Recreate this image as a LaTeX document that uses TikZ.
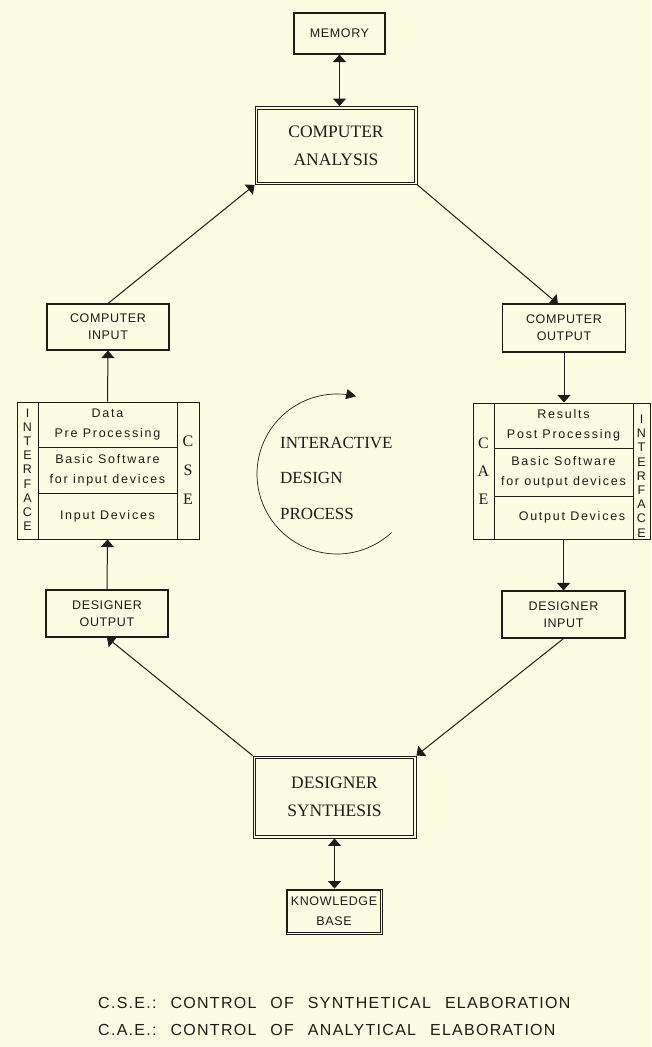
\documentclass[tikz,border=0pt]{standalone}
\usepackage{fontspec}
\newfontfamily\plotcaps[LetterSpace=5]{Liberation Sans}
\newfontfamily\plotlow[LetterSpace=14]{Liberation Sans}
\newfontfamily\plotlegend[LetterSpace=8]{Liberation Sans}
\newfontfamily\bookserif{Liberation Serif}
\usetikzlibrary{arrows.meta}
\definecolor{paper}{RGB}{252,252,226}
\definecolor{ink}{RGB}{28,28,24}
\newcommand\wgap{\hspace{14pt}}

\begin{document}
\begin{tikzpicture}[x=1pt,y=-1pt,
  box/.style={draw=ink, line width=1.1pt, inner sep=0pt, align=center, text=ink},
  frame/.style={draw=ink, line width=0.9pt},
  cell/.style={draw=ink, line width=1pt, inner sep=0pt, align=center, text=ink},
  capsl/.style={font=\plotcaps\fontsize{12.5}{17}\selectfont},
  lowl/.style={font=\plotlow\fontsize{12.5}{20}\selectfont},
  serifl/.style={font=\bookserif\fontsize{17.5}{28}\selectfont},
  vert/.style={font=\plotcaps\fontsize{12.5}{14.2}\selectfont, text=ink, align=center, inner sep=0pt},
  vserif/.style={font=\bookserif\fontsize{16}{29}\selectfont, text=ink, align=center, inner sep=0pt},
  legendl/.style={font=\plotlegend\fontsize{16}{27}\selectfont, text=ink, anchor=base west, inner sep=0pt},
  flow/.style={draw=ink, line width=1pt, -{Triangle[length=7.5pt,width=13pt]}},
  both/.style={draw=ink, line width=1pt, {Triangle[length=7.5pt,width=13pt]}-{Triangle[length=7.5pt,width=13pt]}}]

\fill[paper] (0,0) rectangle (651,1047);
\useasboundingbox (0,0) rectangle (651,1047);

% main boxes
\node[box, capsl, minimum width=91pt, minimum height=41pt] (mem) at (339.5,33.5) {MEMORY};
\node[box, serifl, line width=0.9pt, minimum width=162pt, minimum height=78pt] (ca) at (336,145.5) {COMPUTER\\ANALYSIS};
\draw[frame] ([shift={(3,3)}]ca.north west) rectangle ([shift={(-3,-3)}]ca.south east);
\node[box, capsl, minimum width=122pt, minimum height=46pt] (ci) at (108,327) {COMPUTER\\INPUT};
\node[box, capsl, minimum width=123pt, minimum height=48pt] (co) at (564,328) {COMPUTER\\OUTPUT};
\node[box, capsl, minimum width=122pt, minimum height=47pt] (do) at (107,613.5) {DESIGNER\\OUTPUT};
\node[box, capsl, minimum width=123pt, minimum height=47pt] (di) at (563.5,614.5) {DESIGNER\\INPUT};
\node[box, serifl, line width=0.9pt, minimum width=163pt, minimum height=82pt] (ds) at (334.5,797) {DESIGNER\\SYNTHESIS};
\draw[frame] ([shift={(3,3)}]ds.north west) rectangle ([shift={(-3,-3)}]ds.south east);
\node[box, line width=0.9pt, minimum width=96pt, minimum height=45pt,
      font=\plotcaps\fontsize{12.5}{20}\selectfont] (kb) at (334,911.5) {KNOWLEDGE\\BASE};
\draw[frame, line width=0.6pt] ([shift={(2,2)}]kb.north west) rectangle ([shift={(-2,-2)}]kb.south east);

% left interface block (C.S.E.)
\node[cell, minimum width=21pt, minimum height=137pt] (lint) at (27.5,470.5) {};
\node[cell, lowl, minimum width=139pt, minimum height=45pt] (lc1) at (107.5,424.5) {Data\\Pre Processing};
\node[cell, lowl, minimum width=139pt, minimum height=46pt] (lc2) at (107.5,470) {Basic Software\\for input devices};
\node[cell, lowl, minimum width=139pt, minimum height=46pt] (lc3) at (107.5,516) {Input Devices};
\node[cell, minimum width=22pt, minimum height=137pt] (lcse) at (188,470.5) {};
\node[vert] (lintt) at (27.5,469.5) {I\\N\\T\\E\\R\\F\\A\\C\\E};
\node[vserif] (lcset) at (188,470) {C\\S\\E};

% right interface block (C.A.E.)
\node[cell, minimum width=21pt, minimum height=136pt] (rcae) at (483.5,471) {};
\node[cell, lowl, minimum width=139pt, minimum height=45pt] (rc1) at (563.5,425.5) {Results\\Post Processing};
\node[cell, lowl, minimum width=139pt, minimum height=48pt] (rc2) at (563.5,472) {Basic Software\\for output devices};
\node[cell, minimum width=139pt, minimum height=43pt] (rc3) at (563.5,517.5) {};
\node[lowl, text=ink, inner sep=0pt] (rc3t) at (572,517.5) {Output Devices};
\node[cell, minimum width=17pt, minimum height=136pt] (rint) at (641.5,471) {};
\node[vert] (rintt) at (641.5,476) {I\\N\\T\\E\\R\\F\\A\\C\\E};
\node[vserif, font=\bookserif\fontsize{16}{28}\selectfont] (rcaet) at (483.5,471) {C\\A\\E};

% centre label and cycle arrow
\node[font=\bookserif\fontsize{17}{35.5}\selectfont, text=ink, align=left, anchor=west, inner sep=0pt]
  (idp) at (280,478) {INTERACTIVE\\DESIGN\\PROCESS};
\draw[draw=ink, line width=0.7pt, -{Triangle[length=10pt,width=10pt]}]
  plot[domain=0:1, samples=90, smooth] ({337+80*cos(313-237*\x)}, {474-80*sin(313-237*\x)});

% connectors
\coordinate (coin) at (558,304);
\draw[both] (mem.south) -- (ca.north -| mem.south);
\draw[flow] (ci.north) -- (ca.south west);
\draw[flow] (ca.south east) -- (coin);
\draw[flow] (lc1.north) -- (ci.south);
\draw[flow] (co.south) -- (rc1.north -| co.south);
\draw[flow] (do.north) -- (lc3.south);
\draw[flow] (rc3.south -| di.north) -- (di.north);
\draw[flow] (ds.north west) -- (do.south);
\draw[flow] (di.south) -- (ds.north east);
\draw[both] (ds.south) -- (kb.north -| ds.south);

% legend
\node[legendl] (cse) at (98,1008.5) {C.S.E.:\wgap CONTROL\wgap OF\wgap SYNTHETICAL\wgap ELABORATION};
\node[legendl] (cae) at (98,1035.5) {C.A.E.:\wgap CONTROL\wgap OF\wgap ANALYTICAL\wgap ELABORATION};
\end{tikzpicture}
\end{document}
